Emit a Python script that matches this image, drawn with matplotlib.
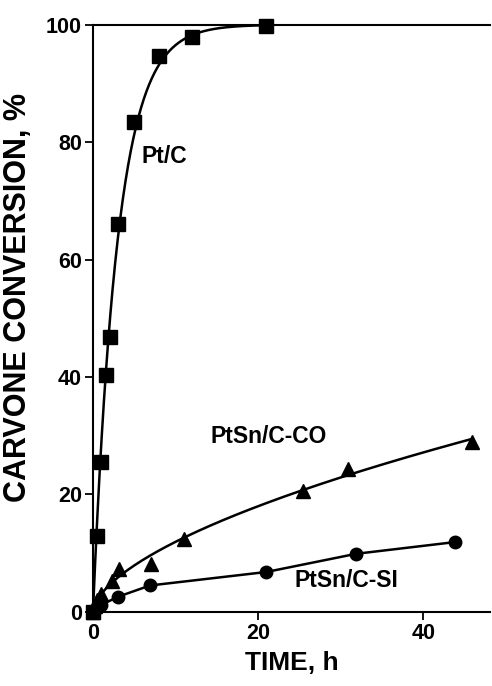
import numpy as np
import matplotlib
matplotlib.use("Agg")
import matplotlib.pyplot as plt

plt.rcParams['font.family'] = ['Liberation Sans', 'DejaVu Sans']
plt.rcParams['font.weight'] = 'bold'

# Pt/C (squares)
t_pt = [0, 0.45, 0.97, 1.54, 2.06, 3.0, 5.0, 8.0, 12.0, 20.9]
y_pt = [0, 13.0, 25.6, 40.4, 46.9, 66.1, 83.5, 94.7, 97.9, 99.7]

# PtSn/C-CO (triangles)
t_co = [0, 0.2, 0.5, 1.0, 2.3, 3.1, 7.0, 11.0, 25.5, 30.9, 45.9]
y_co = [0, 1.0, 2.0, 3.0, 5.2, 7.3, 8.2, 12.4, 20.6, 24.4, 29.0]

# PtSn/C-SI (circles)
t_si = [0, 0.5, 1.0, 3.07, 6.9, 21.0, 31.9, 43.9]
y_si = [0, 0.6, 1.2, 2.6, 4.5, 6.8, 9.9, 11.9]


def fit_first_order(t, y, ymax=100.0):
    # grid search for k in y = ymax*(1-exp(-k t)), first part of the curve
    t = np.asarray(t); y = np.asarray(y)
    sel = t <= 5
    ks = np.linspace(0.05, 1.5, 2000)
    err = [np.sum((ymax * (1 - np.exp(-k * t[sel])) - y[sel]) ** 2) for k in ks]
    return ks[int(np.argmin(err))]


def fit_power(t, y):
    # y = a t^n, least squares on linear scale
    t = np.asarray(t); y = np.asarray(y)
    best = None
    for n in np.linspace(0.2, 1.0, 801):
        f = t ** n
        a = np.sum(f * y) / np.sum(f * f)
        e = np.sum((a * f - y) ** 2)
        if best is None or e < best[0]:
            best = (e, a, n)
    return best[1], best[2]


fig = plt.figure(figsize=(4.92, 6.86), dpi=100)
ax = fig.add_axes([0.189, 0.108, 0.807, 0.856])

k = fit_first_order(t_pt, y_pt)
tt = np.linspace(0, 21, 400)
ax.plot(tt, 100 * (1 - np.exp(-k * tt)), color='black', lw=1.8, clip_on=False)

a, n = fit_power(t_co, y_co)
tt2 = np.linspace(0, 46, 600)
ax.plot(tt2, a * tt2 ** n, color='black', lw=1.8, clip_on=False)

ax.plot(t_si, y_si, color='black', lw=1.8, clip_on=False)

ax.plot(t_pt, y_pt, 's', color='black', ms=9.5, clip_on=False, zorder=5)
ax.plot(t_co, y_co, '^', color='black', ms=10, clip_on=False, zorder=5)
ax.plot(t_si, y_si, 'o', color='black', ms=9, clip_on=False, zorder=5)

ax.text(8.7, 77.6, 'Pt/C', fontsize=16.5, fontweight='bold', ha='center', va='center')
ax.text(21.3, 29.8, 'PtSn/C-CO', fontsize=16.5, fontweight='bold', ha='center', va='center')
ax.text(30.7, 5.4, 'PtSn/C-SI', fontsize=16.5, fontweight='bold', ha='center', va='center')

ax.set_xlim(0, 48.1)
ax.set_ylim(0, 100)
ax.set_xticks([0, 20, 40])
ax.set_yticks([0, 20, 40, 60, 80, 100])
ax.spines['right'].set_visible(False)
for s in ['left', 'bottom', 'top']:
    ax.spines[s].set_linewidth(1.5)
ax.tick_params(direction='out', length=6, width=1.3, labelsize=15.5, pad=2)
ax.tick_params(axis='x', top=False)
for lab in ax.get_xticklabels() + ax.get_yticklabels():
    lab.set_fontweight('bold')

ax.set_xlabel('TIME, h', fontsize=19, fontweight='bold', labelpad=5)
ax.set_ylabel('CARVONE CONVERSION, %', fontsize=22, fontweight='bold')
ax.yaxis.set_label_coords(-0.15, 0.535)

fig.savefig('out.png', dpi=100)
